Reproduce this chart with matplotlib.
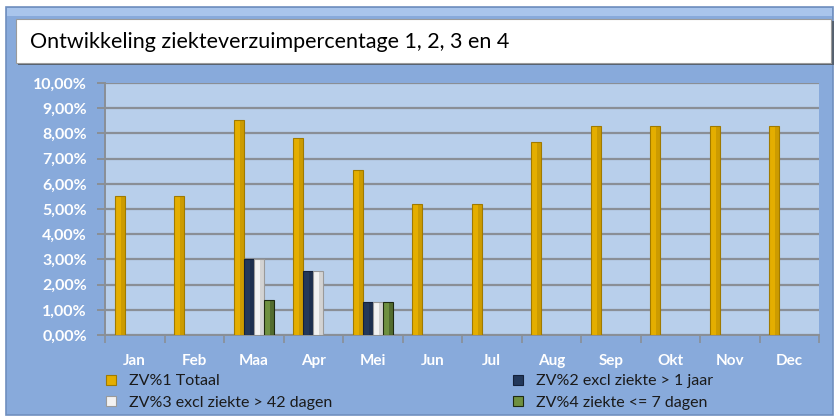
import matplotlib
matplotlib.use("Agg")
import matplotlib.pyplot as plt
import numpy as np
from matplotlib.patches import Rectangle
from matplotlib.ticker import FuncFormatter, MultipleLocator

plt.rcParams['font.family'] = ['Lato', 'DejaVu Sans']

# data
months = ['Jan', 'Feb', 'Maa', 'Apr', 'Mei', 'Jun', 'Jul', 'Aug', 'Sep', 'Okt', 'Nov', 'Dec']
zv1 = [5.5, 5.5, 8.55, 7.8, 6.55, 5.2, 5.2, 7.65, 8.3, 8.3, 8.3, 8.3]
zv2 = [0, 0, 3.0, 2.55, 1.3, 0, 0, 0, 0, 0, 0, 0]
zv3 = [0, 0, 3.0, 2.55, 1.3, 0, 0, 0, 0, 0, 0, 0]
zv4 = [0, 0, 1.38, 0, 1.3, 0, 0, 0, 0, 0, 0, 0]
labels = ['ZV%1 Totaal', 'ZV%2 excl ziekte > 1 jaar',
          'ZV%3 excl ziekte > 42 dagen', 'ZV%4 ziekte <= 7 dagen']

W, H = 834, 416
fig = plt.figure(figsize=(W / 100, H / 100), dpi=100)
fig.patch.set_facecolor('white')

def px(x, y):
    return x / W, 1 - y / H

# outer blue panel
fig.patches.append(Rectangle(px(6, 415), 827 / W, 408 / H, transform=fig.transFigure,
                             facecolor='#88aadb', edgecolor='#6f8fbf', lw=1.2, zorder=0))
fig.patches.append(Rectangle(px(7, 16), 825 / W, 8 / H, transform=fig.transFigure,
                             facecolor='#a9c5ec', edgecolor='none', zorder=0))
# title box with shadow
fig.patches.append(Rectangle(px(18, 65), 816 / W, 44 / H, transform=fig.transFigure,
                             facecolor='#55606e', edgecolor='none', zorder=1))
fig.patches.append(Rectangle(px(16, 63), 815 / W, 44 / H, transform=fig.transFigure,
                             facecolor='white', edgecolor='#9a9a9a', lw=0.8, zorder=1))
fig.text(30 / W, 1 - 42 / H, 'Ontwikkeling ziekteverzuimpercentage 1, 2, 3 en 4',
         fontsize=15.5, color='black', va='center', ha='left', zorder=2)

ax = fig.add_axes([105 / W, 1 - 335 / H, (819 - 105) / W, (335 - 83) / H])
ax.set_zorder(5)
ax.set_facecolor('#b8cfeb')

x = np.arange(len(months))
w = 0.168
series = [zv1, zv2, zv3, zv4]
faces = ['#e4ae00', '#23385a', '#f2f2f2', '#6f9040']
edges = ['#a07a00', '#14213a', '#9a9a9a', '#1e2a10']
for k, (vals, fc, ec) in enumerate(zip(series, faces, edges)):
    pos = x + (k - 1.5) * w
    v = np.array(vals)
    mask = v > 0
    ax.bar(pos[mask], v[mask], width=w, color=fc, edgecolor=ec, linewidth=0.8, zorder=3,
           label=labels[k])
    # darker right side for a bit of bevel
    ax.bar(pos[mask] + w * 0.3, v[mask], width=w * 0.4, color=ec, alpha=0.35,
           linewidth=0, zorder=3.5)

ax.set_xlim(-0.5, 11.5)
ax.set_ylim(0, 10)
ax.yaxis.set_major_locator(MultipleLocator(1))
ax.yaxis.set_major_formatter(FuncFormatter(lambda v, p: ('%.2f%%' % v).replace('.', ',')))
ax.grid(axis='y', color='#8a8f96', lw=1.6, zorder=1)
ax.set_axisbelow(True)

ax.set_xticks(np.arange(-0.5, 12, 1))
ax.set_xticklabels([])
ax.set_xticks(x, minor=True)
ax.set_xticklabels(months, minor=True)
ax.tick_params(axis='x', which='major', length=6, color='#8a8f96', width=1.2, direction='out')
ax.tick_params(axis='x', which='minor', length=0, pad=14, labelcolor='white', labelsize=11)
ax.tick_params(axis='y', length=6, color='#8a8f96', width=1.4, pad=7, labelcolor='white',
               labelsize=11.5)
for t in ax.get_xticklabels(minor=True) + ax.get_yticklabels():
    t.set_fontweight('bold')
for s in ['top', 'right']:
    ax.spines[s].set_visible(False)
ax.spines['left'].set_color('#8a8f96')
ax.spines['left'].set_linewidth(1.4)
ax.spines['bottom'].set_color('#8a8f96')
ax.spines['bottom'].set_linewidth(1.4)

h, l = ax.get_legend_handles_labels()
order = [0, 2, 1, 3]
leg = fig.legend([h[i] for i in order], [l[i] for i in order], ncol=2,
                 loc='upper left', bbox_to_anchor=(92 / W, 1 - 360 / H), frameon=False,
                 fontsize=11.5, handlelength=0.6, handleheight=0.6, handletextpad=0.8,
                 columnspacing=11.35, labelspacing=0.45, labelcolor='#1a1a1a')
leg.set_zorder(6)

fig.savefig('out.png', dpi=100, facecolor=fig.get_facecolor())
